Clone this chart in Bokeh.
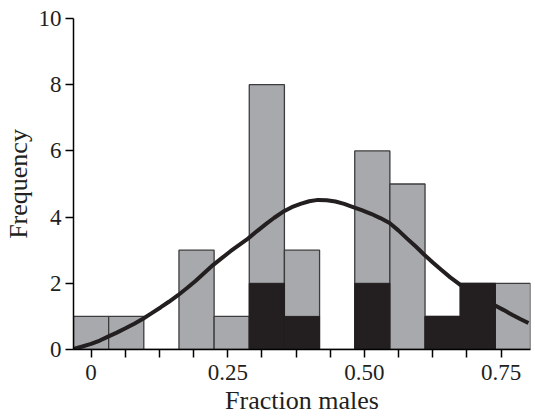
from bokeh.plotting import figure
from bokeh.models import FixedTicker, Range1d
from bokeh.embed import file_html
from bokeh.resources import INLINE

# ---- data ----
bin_centers = [0.0, 0.0643, 0.1286, 0.1929, 0.2572, 0.3215, 0.3858, 0.4501,
               0.5144, 0.5787, 0.643, 0.7073, 0.7716]
bin_width = 0.0643
total_counts = [1, 1, 0, 3, 1, 8, 3, 0, 6, 5, 1, 2, 2]
black_counts = [0, 0, 0, 0, 0, 2, 1, 0, 2, 0, 1, 2, 0]

curve_x = [-0.032, -0.016, 0.0, 0.016, 0.031, 0.047, 0.063, 0.079, 0.095, 0.111,
           0.127, 0.143, 0.159, 0.175, 0.191, 0.207, 0.223, 0.239, 0.255, 0.271,
           0.287, 0.303, 0.319, 0.335, 0.351, 0.367, 0.383, 0.399, 0.415, 0.431,
           0.447, 0.463, 0.478, 0.495, 0.512, 0.529, 0.546, 0.562, 0.578, 0.594,
           0.609, 0.625, 0.641, 0.657, 0.673, 0.690, 0.706, 0.722, 0.739, 0.755,
           0.770, 0.785, 0.800]
curve_y = [0.02, 0.09, 0.17, 0.27, 0.39, 0.51, 0.64, 0.78, 0.93, 1.10,
           1.27, 1.45, 1.64, 1.85, 2.07, 2.31, 2.55, 2.76, 2.97, 3.16,
           3.35, 3.57, 3.78, 3.98, 4.16, 4.30, 4.40, 4.48, 4.52, 4.51,
           4.47, 4.40, 4.31, 4.21, 4.10, 3.97, 3.82, 3.60, 3.35, 3.11,
           2.87, 2.63, 2.40, 2.18, 1.98, 1.80, 1.63, 1.47, 1.33, 1.19,
           1.05, 0.92, 0.80]

x_ticks = [0.0, 0.0625, 0.125, 0.1875, 0.25, 0.3125, 0.375, 0.4375, 0.5,
           0.5625, 0.625, 0.6875, 0.75]
x_tick_labels = {0.0: "0", 0.25: "0.25", 0.5: "0.50", 0.75: "0.75"}
y_ticks = [0, 2, 4, 6, 8, 10]

GRAY = "#a7a9ac"
BLACK = "#231f20"
FONT = "Liberation Serif"

left = [c - bin_width / 2 for c in bin_centers]
right = [c + bin_width / 2 for c in bin_centers]

p = figure(width=534, height=417, output_backend="svg", toolbar_location=None,
           x_range=Range1d(left[0], right[-1]), y_range=Range1d(0, 10),
           min_border_left=10, min_border_right=4, min_border_top=18,
           min_border_bottom=10)
p.background_fill_color = "white"
p.border_fill_color = "white"
p.outline_line_color = None
p.grid.visible = False

# gray total bars
p.quad(left=left, right=right, bottom=0, top=total_counts,
       fill_color=GRAY, line_color="#3c3c3c", line_width=1.3)
# curve
p.line(curve_x, curve_y, line_color=BLACK, line_width=4, line_join="round")
# black bars
bl = [l for l, b in zip(left, black_counts) if b > 0]
br = [r for r, b in zip(right, black_counts) if b > 0]
bt = [b for b in black_counts if b > 0]
p.quad(left=bl, right=br, bottom=0, top=bt,
       fill_color=BLACK, line_color=BLACK, line_width=1)

for ax in (p.xaxis[0], p.yaxis[0]):
    ax.axis_line_color = "black"
    ax.axis_line_width = 1.5
    ax.major_tick_line_color = "black"
    ax.major_tick_line_width = 1.5
    ax.major_tick_in = 0
    ax.major_tick_out = 8
    ax.minor_tick_line_color = None
    ax.major_label_text_font = FONT
    ax.major_label_text_font_size = "23px"
    ax.major_label_text_color = "#231f20"
    ax.axis_label_text_font = FONT
    ax.axis_label_text_font_size = "26px"
    ax.axis_label_text_font_style = "normal"
    ax.axis_label_text_color = "#231f20"

p.xaxis.ticker = FixedTicker(ticks=x_ticks, minor_ticks=[])
p.xaxis.major_label_overrides = {t: x_tick_labels.get(t, "") for t in x_ticks}
p.xaxis.axis_label = "Fraction males"
p.xaxis.major_label_standoff = 7
p.xaxis.axis_label_standoff = 3

p.yaxis.ticker = FixedTicker(ticks=y_ticks, minor_ticks=[])
p.yaxis.axis_label = "Frequency"
p.yaxis.major_label_standoff = 4
p.yaxis.axis_label_standoff = 3

open("out.html", "w").write(file_html(p, INLINE))
